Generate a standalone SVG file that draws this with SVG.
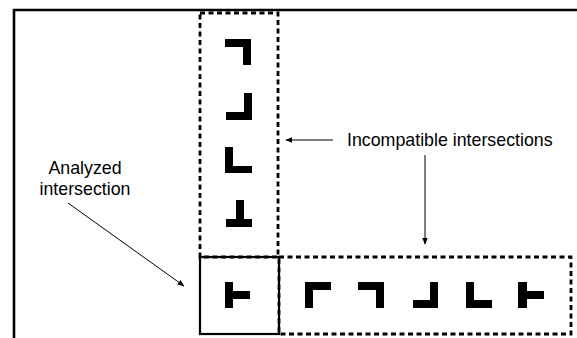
<svg xmlns="http://www.w3.org/2000/svg" width="577" height="338" viewBox="0 0 577 338">
<defs>
<style>
.frame{fill:none;stroke:#000;stroke-width:2.6}
.dash{fill:none;stroke:#000;stroke-width:2.8;stroke-dasharray:5 3.5}
.solid{fill:none;stroke:#000;stroke-width:2.2}
.g{fill:#000}
.conn{stroke:#000;stroke-width:1;fill:none;marker-end:url(#ah)}
.lbl{font-family:"Liberation Sans",Arial,sans-serif;font-size:17.8px;fill:#000}
</style>
<marker id="ah" viewBox="0 0 10 10" refX="9" refY="5" markerWidth="7" markerHeight="7" markerUnits="userSpaceOnUse" orient="auto">
<path d="M0,1 L10,5 L0,9 z" fill="#000"/>
</marker>
</defs>
<rect width="577" height="338" fill="#fff"/>
<path class="frame" d="M14,340 V10 H580"/>

<g id="incompatible-vertical">
<rect class="dash" x="200" y="13" width="78" height="244"/>
<g id="v1"><path class="g" d="M225,39 H251 V65 H243 V47 H225 z"/></g>
<g id="v2"><path class="g" d="M244,93 H252 V120 H226 V112 H244 z"/></g>
<g id="v3"><path class="g" d="M225,147 H233 V166 H252 V173 H225 z"/></g>
<g id="v4"><path class="g" d="M236,200 H244 V219 H252 V227 H226 V219 H236 z"/></g>
</g>

<g id="incompatible-horizontal">
<rect class="dash" x="279" y="257" width="292" height="77"/>
<g id="h1"><path class="g" d="M305,282 H331 V290 H313 V308 H305 z"/></g>
<g id="h2"><path class="g" d="M358,282 H384 V308 H376 V290 H358 z"/></g>
<g id="h3"><path class="g" d="M430,282 H438 V308 H413 V300 H430 z"/></g>
<g id="h4"><path class="g" d="M466,282 H474 V300 H492 V308 H466 z"/></g>
<g id="h5"><path class="g" d="M518,282 H527 V291 H544 V299 H527 V308 H518 z"/></g>
</g>

<g id="analyzed">
<rect class="solid" x="200" y="257" width="79" height="77"/>
<path class="g" d="M225,282 H233 V291 H250 V299 H233 V308 H225 z"/>
</g>

<g id="label-incompatible">
<text class="lbl" x="347" y="146">Incompatible intersections</text>
</g>
<g id="label-analyzed">
<text class="lbl" x="85" y="174" text-anchor="middle">Analyzed</text>
<text class="lbl" x="85" y="195" text-anchor="middle">intersection</text>
</g>

<g id="connectors">
<line class="conn" x1="333" y1="140" x2="286" y2="140"/>
<line class="conn" x1="425" y1="155" x2="425" y2="244"/>
<line class="conn" x1="68" y1="203" x2="184" y2="286"/>
</g>
</svg>
